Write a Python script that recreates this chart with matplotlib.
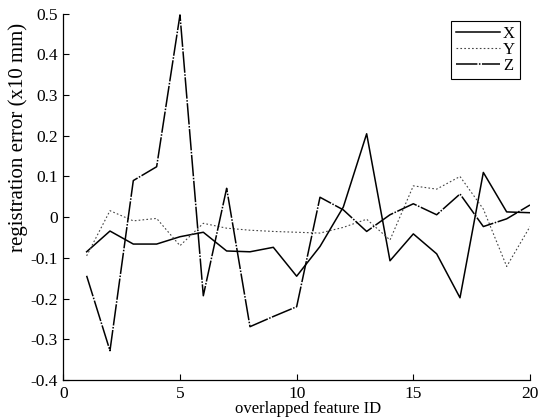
import matplotlib
matplotlib.use("Agg")
import matplotlib.pyplot as plt

# Feature IDs and per-axis registration error (x10 mm)
feature_id = list(range(1, 21))
err_x = [-0.085, -0.034, -0.066, -0.066, -0.048, -0.037, -0.083, -0.085, -0.074, -0.145,
         -0.072, 0.025, 0.205, -0.107, -0.041, -0.090, -0.198, 0.110, 0.013, 0.011]
err_y = [-0.095, 0.016, -0.009, -0.003, -0.070, -0.015, -0.027, -0.032, -0.035, -0.037,
         -0.039, -0.025, -0.005, -0.056, 0.077, 0.069, 0.100, 0.020, -0.121, -0.023]
err_z = [-0.144, -0.328, 0.090, 0.124, 0.497, -0.193, 0.071, -0.269, -0.244, -0.220,
         0.049, 0.018, -0.035, 0.006, 0.033, 0.006, 0.057, -0.023, -0.004, 0.030]

series_labels = ["X", "Y", "Z"]
x_ticks = [0, 5, 10, 15, 20]
y_ticks = [0.5, 0.4, 0.3, 0.2, 0.1, 0.0, -0.1, -0.2, -0.3, -0.4]
y_tick_labels = ["0.5", "0.4", "0.3", "0.2", "0.1", "0", "-0.1", "-0.2", "-0.3", "-0.4"]

plt.rcParams["font.family"] = ["Liberation Serif", "DejaVu Serif"]
plt.rcParams["font.size"] = 12

fig = plt.figure(figsize=(5.49, 4.19), dpi=100)
ax = fig.add_axes([0.1153, 0.0931, 0.8501, 0.8742])

ax.plot(feature_id, err_x, color="black", lw=1.1, linestyle="-", label=series_labels[0])
ax.plot(feature_id, err_y, color="#444444", lw=0.8, linestyle=(0, (1.5, 2.0)), label=series_labels[1])
ax.plot(feature_id, err_z, color="black", lw=1.1, linestyle=(0, (14, 1.0, 1.0, 1.0)), label=series_labels[2])

ax.set_xlim(0, 20)
ax.set_ylim(-0.4, 0.5)
ax.set_xticks(x_ticks)
ax.set_yticks(y_ticks)
ax.set_yticklabels(y_tick_labels)
ax.tick_params(direction="in", length=4, width=0.8, labelsize=12.5, pad=4)

for side in ("top", "right"):
    ax.spines[side].set_visible(False)
for side in ("left", "bottom"):
    ax.spines[side].set_linewidth(0.9)

ax.set_xlabel("overlapped feature ID", fontsize=12, labelpad=0)
ax.set_ylabel("registration error (x10 mm)", fontsize=15)
ax.xaxis.set_label_coords(0.524, -0.058)
ax.yaxis.set_label_coords(-0.076, 0.663)

leg = ax.legend(loc="upper right", bbox_to_anchor=(0.9786, 0.981), borderaxespad=0,
                fancybox=False, edgecolor="black", framealpha=1, fontsize=12,
                handlelength=2.6, handletextpad=0.2, labelspacing=0.0, borderpad=0.3)
leg.get_frame().set_linewidth(0.8)

fig.savefig("out.png", dpi=100)
